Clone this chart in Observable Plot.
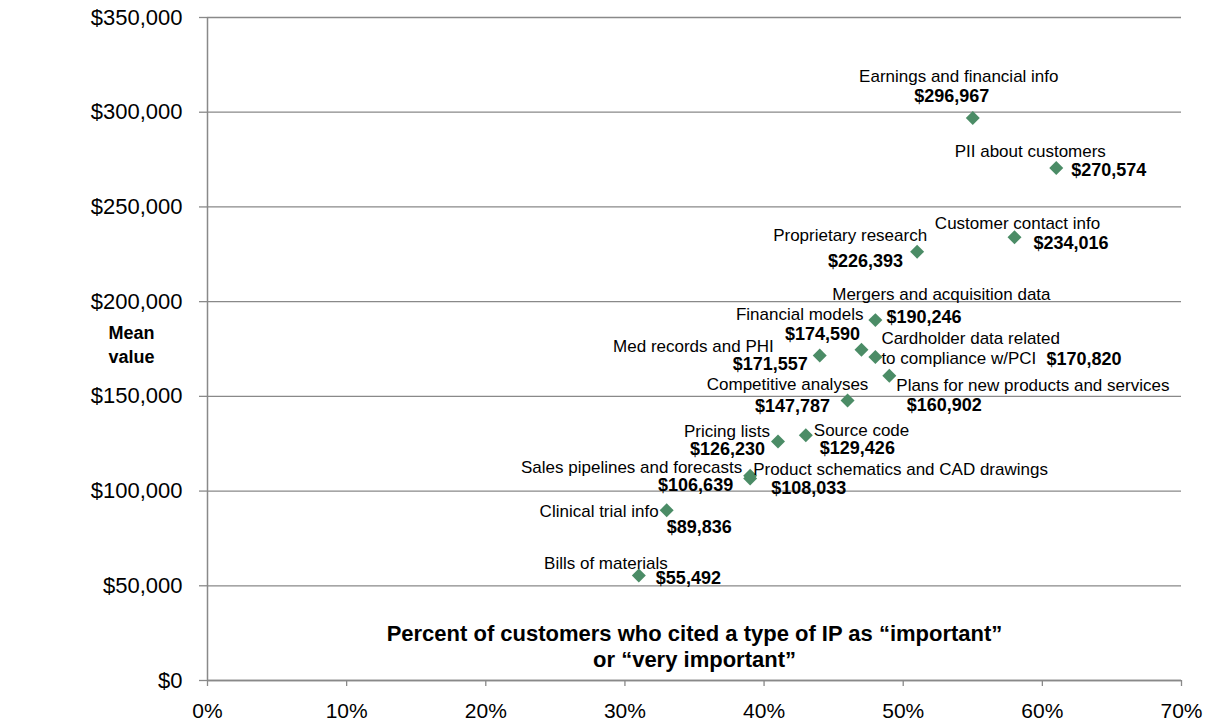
<!DOCTYPE html>
<html>
<head>
<meta charset="utf-8">
<script src="https://cdn.jsdelivr.net/npm/d3@7"></script>
<script src="https://cdn.jsdelivr.net/npm/@observablehq/plot@0.6"></script>
<style>
  html, body { margin: 0; padding: 0; background: #ffffff; }
  #chart { width: 1211px; height: 726px; }
</style>
</head>
<body>
<div id="chart"></div>
<script>
// ---- Data ----
const categories = [
  "Earnings and financial info",
  "PII about customers",
  "Customer contact info",
  "Proprietary research",
  "Mergers and acquisition data",
  "Financial models",
  "Cardholder data related\nto compliance w/PCI",
  "Med records and PHI",
  "Plans for new products and services",
  "Competitive analyses",
  "Pricing lists",
  "Source code",
  "Sales pipelines and forecasts",
  "Product schematics and CAD drawings",
  "Clinical trial info",
  "Bills of materials"
];
const percentCited = [0.55, 0.61, 0.58, 0.51, 0.48, 0.47, 0.48, 0.44, 0.49, 0.46, 0.41, 0.43, 0.39, 0.39, 0.33, 0.31];
const meanValue = [296967, 270574, 234016, 226393, 190246, 174590, 170820, 171557, 160902, 147787, 126230, 129426, 106639, 108033, 89836, 55492];

const xTicks = [0, 0.1, 0.2, 0.3, 0.4, 0.5, 0.6, 0.7];
const yTicks = [0, 50000, 100000, 150000, 200000, 250000, 300000, 350000];

const yAxisTitle = "Mean\nvalue";
const xAxisTitle = "Percent of customers who cited a type of IP as \u201Cimportant\u201D\nor \u201Cvery important\u201D";

// ---- Label layout (anchor, dx, dy for name, then for value) ----
const labelLayout = {
  "Earnings and financial info":          ["middle", -14, -42, "middle", -21, -22],
  "PII about customers":                  ["middle", -26, -17, "start", 15, 2],
  "Customer contact info":                ["middle", 3, -15, "start", 19, 6],
  "Proprietary research":                 ["middle", -67, -17, "end", -14, 10],
  "Mergers and acquisition data":         ["middle", 66, -27, "start", 11, -3],
  "Financial models":                     ["end", 2, -36, "middle", -39, -16],
  "Cardholder data related\nto compliance w/PCI": ["start", 6, -9, "start", 171, 2],
  "Med records and PHI":                  ["end", -46, -10, "end", -12, 9],
  "Plans for new products and services":  ["start", 7, 9, "middle", 55, 30],
  "Competitive analyses":                 ["middle", -60, -17, "middle", -55, 6],
  "Pricing lists":                        ["end", -8, -11, "end", -13, 8],
  "Source code":                          ["start", 8, -6, "start", 14, 13],
  "Sales pipelines and forecasts":        ["end", -8, -12, "end", -17, 7],
  "Product schematics and CAD drawings":  ["start", 3, -7, "start", 21, 12],
  "Clinical trial info":                  ["end", -8, 0, "start", 0, 17],
  "Bills of materials":                   ["end", 29, -13, "start", 17, 3]
};

const data = categories.map((c, i) => ({category: c, pct: percentCited[i], value: meanValue[i]}));

const gray = "#898989";
const green = "#4b8c66";
const fmtMoney = d3.format("$,");

const labelMarks = [];
for (const d of data) {
  const [na, ndx, ndy, va, vdx, vdy] = labelLayout[d.category];
  labelMarks.push(Plot.text([d], {
    x: "pct", y: "value", text: "category",
    textAnchor: na, dx: ndx, dy: ndy,
    fontSize: 17, fill: "#000", lineHeight: 1.18
  }));
  labelMarks.push(Plot.text([d], {
    x: "pct", y: "value", text: (e) => fmtMoney(e.value),
    textAnchor: va, dx: vdx, dy: vdy,
    fontSize: 18, fontWeight: "bold", fill: "#000"
  }));
}

const chart = Plot.plot({
  width: 1211,
  height: 726,
  marginLeft: 207,
  marginRight: 30,
  marginTop: 17,
  marginBottom: 46,
  style: {fontFamily: "'Liberation Sans', Arial, sans-serif", fontSize: "22px", background: "#ffffff", color: "#000"},
  x: {domain: [0, 0.7], ticks: xTicks, tickFormat: d3.format(".0%")},
  y: {domain: [0, 350000], ticks: yTicks, tickFormat: d3.format("$,")},
  marks: [
    Plot.gridY(yTicks, {stroke: gray, strokeOpacity: 1, strokeWidth: 1.3}),
    Plot.axisY(yTicks, {tickSize: 8, tickPadding: 17, stroke: gray, strokeWidth: 1.3, fill: "#000", fontSize: 22, label: null, tickFormat: d3.format("$,")}),
    Plot.ruleX([0], {stroke: gray, strokeWidth: 1.5}),
    Plot.axisX(xTicks, {tickSize: 6, tickPadding: 17, stroke: gray, strokeWidth: 1.3, fill: "#000", fontSize: 21, label: null, tickFormat: d3.format(".0%")}),
    Plot.ruleY([0], {stroke: gray, strokeWidth: 1.5}),
    Plot.text([yAxisTitle], {frameAnchor: "left", textAnchor: "middle", lineAnchor: "middle", dx: -76, dy: -6, fontSize: 18, fontWeight: "bold", fill: "#000", lineHeight: 1.35}),
    Plot.text([xAxisTitle], {frameAnchor: "bottom", textAnchor: "middle", lineAnchor: "middle", dy: -35, fontSize: 22, fontWeight: "bold", fill: "#000", lineHeight: 1.18}),
    Plot.dot(data, {x: "pct", y: "value", symbol: "diamond2", r: 6.3, fill: green, stroke: "none"}),
    ...labelMarks
  ]
});

document.getElementById("chart").appendChild(chart);
</script>
</body>
</html>
